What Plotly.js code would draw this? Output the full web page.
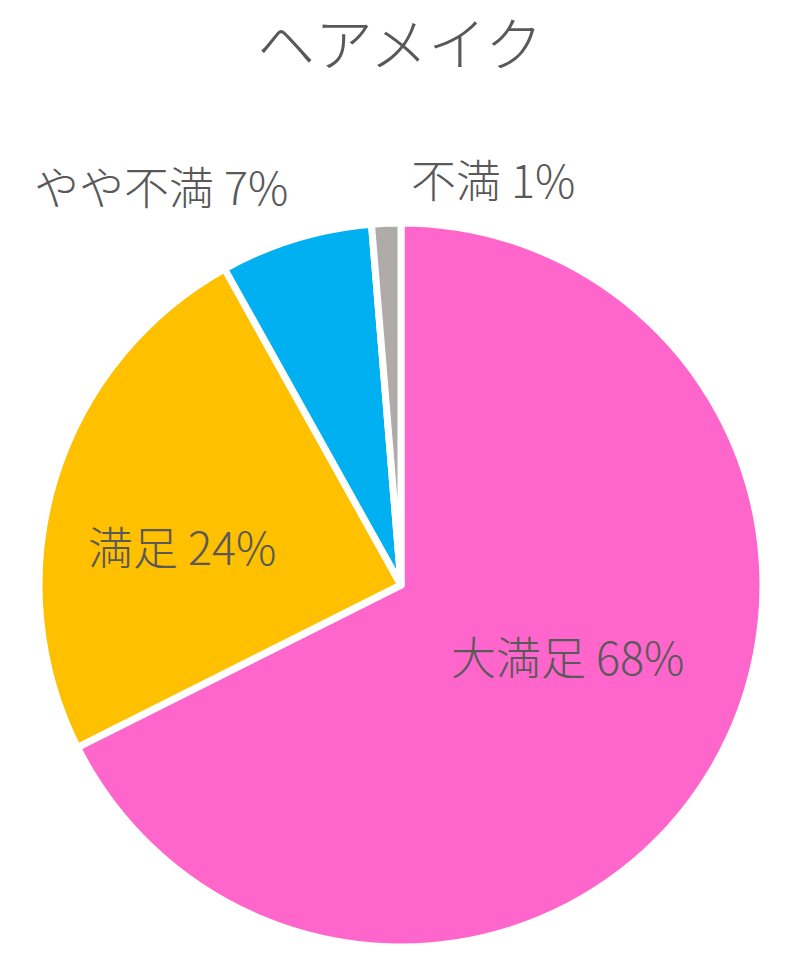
<!DOCTYPE html>
<html>
<head>
<meta charset="utf-8">
<script src="https://cdn.plot.ly/plotly-3.0.1.min.js"></script>
<style>html,body{margin:0;padding:0;background:#fff;}#chart{width:800px;height:962px;}</style>
</head>
<body>
<div id="chart"></div>
<script>
const chartTitle = 'ヘアメイク';
const labels = ['大満足', '満足', 'やや不満', '不満'];
const values = [67.6, 24.3, 6.8, 1.3];
const percentLabels = [68, 24, 7, 1];
const colors = ['#FF66CC', '#FFC000', '#00B0F0', '#AFABAB'];

const FONT = '"Noto Sans CJK JP", "Noto Sans", sans-serif';
const TEXT = '#595959';
const W = 800, H = 962, MT = 110;
const PH = H - MT;
// pixel -> paper helpers (plot area starts at MT from the top)
const px = x => x / W;
const py = y => 1 - (y - MT) / PH;

// label placement in pixel coords (x, y from top)
const labelPx = [[567, 655], [182, 545], [161, 185], [493, 178]];

const annotations = labels.map((l, i) => ({
  text: l + ' ' + percentLabels[i] + '%',
  x: px(labelPx[i][0]), y: py(labelPx[i][1]),
  xref: 'paper', yref: 'paper', xanchor: 'center', yanchor: 'middle',
  showarrow: false,
  font: {family: FONT, size: 45, color: TEXT, weight: 300}
}));

const cx = 401, cy = 585, r = 362;
const trace = {
  type: 'pie',
  labels: labels,
  values: values,
  sort: false,
  direction: 'clockwise',
  rotation: 0,
  textinfo: 'none',
  hoverinfo: 'skip',
  marker: {colors: colors, line: {color: '#FFFFFF', width: 7}},
  domain: {x: [px(cx - r), px(cx + r)], y: [py(cy + r), py(cy - r)]}
};

const layout = {
  width: W, height: H,
  margin: {l: 0, r: 0, t: MT, b: 0},
  paper_bgcolor: '#FFFFFF',
  showlegend: false,
  title: {
    text: chartTitle,
    x: 0.5, xanchor: 'center', xref: 'paper',
    y: 1 - 46 / H, yanchor: 'middle', yref: 'container',
    font: {family: FONT, size: 58, color: TEXT, weight: 300}
  },
  annotations: annotations
};

Plotly.newPlot('chart', [trace], layout, {displayModeBar: false, staticPlot: true});
</script>
</body>
</html>
